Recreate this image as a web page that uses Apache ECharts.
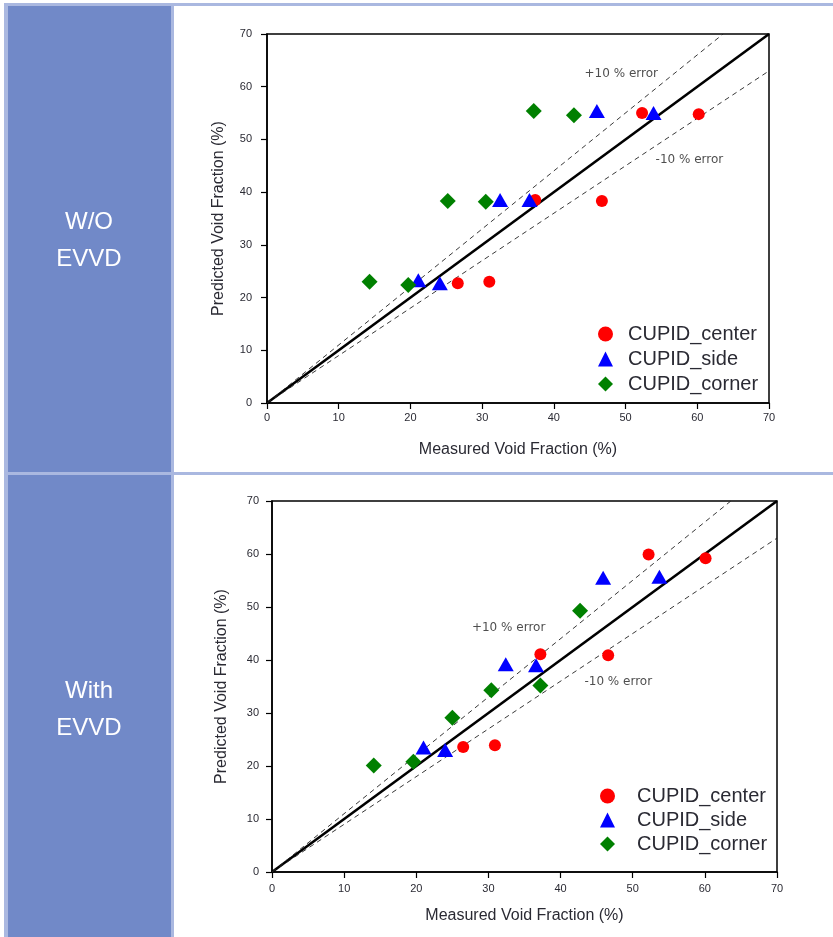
<!DOCTYPE html>
<html>
<head>
<meta charset="utf-8">
<script src="https://cdn.jsdelivr.net/npm/echarts@6/dist/echarts.min.js"></script>
<style>
html,body{margin:0;padding:0;background:#fff;}
#chart{width:833px;height:937px;}
</style>
</head>
<body>
<div id="chart"></div>
<script>
// ---------- data ----------
var rowLabels = ['W/O\nEVVD', 'With\nEVVD'];
var seriesNames = ['CUPID_center', 'CUPID_side', 'CUPID_corner'];
var axisTicks = [0, 10, 20, 30, 40, 50, 60, 70];
var xAxisTitle = 'Measured Void Fraction (%)';
var yAxisTitle = 'Predicted Void Fraction (%)';

// W/O EVVD  [measured, predicted]
var woCenter = [[26.6,22.7],[31.0,23.0],[37.4,38.5],[46.7,38.3],[52.3,55.0],[60.2,54.8]];
var woSide   = [[21.1,23.3],[24.1,22.7],[32.5,38.5],[36.6,38.5],[46.0,55.4],[53.9,55.0]];
var woCorner = [[14.3,23.0],[19.7,22.4],[25.2,38.3],[30.5,38.2],[37.2,55.4],[42.8,54.6]];

// With EVVD
var wCenter = [[26.5,23.6],[30.9,23.9],[37.2,41.1],[46.6,40.9],[52.2,59.9],[60.1,59.2]];
var wSide   = [[21.0,23.5],[24.0,23.0],[32.4,39.2],[36.6,39.0],[45.9,55.5],[53.7,55.7]];
var wCorner = [[14.1,20.1],[19.6,20.8],[25.0,29.1],[30.4,34.3],[37.2,35.2],[42.7,49.3]];

// reference lines (y = x, +10 %, -10 %)
var perfectLine = [[0,0],[70,70]];
var plusLine    = [[0,0],[63.6,70]];
var minusLine   = [[0,0],[70,63]];

// error-band labels [x, y, text]
var woNotes = [[49.4,62.4,'+10 % error'],[58.9,46.2,'-10 % error']];
var wNotes  = [[32.8,46.0,'+10 % error'],[48.0,35.8,'-10 % error']];

// ---------- styles ----------
var BLUE_CELL = '#7189C8';
var BORDER = '#AAB8E0';
var TXT = '#2a2a33';
var FONT = 'Liberation Sans, Arial, sans-serif';
var symbols = ['circle', 'triangle', 'diamond'];
var symSizes = [12, [16, 14], 16];
var colors = ['#FF0000', '#0000FF', '#008000'];

var grids = [
  {left: 267, top: 34, width: 502, height: 369},
  {left: 272, top: 501, width: 505, height: 371}
];

function makeAxis(kind, gi, cfg) {
  return {
    type: 'value', gridIndex: gi, min: 0, max: 70, interval: 10,
    name: kind === 'x' ? xAxisTitle : yAxisTitle,
    nameLocation: 'middle', nameGap: cfg.nameGap,
    nameTextStyle: {fontFamily: FONT, fontSize: 16, color: TXT},
    axisLine: {show: true, onZero: false, lineStyle: {color: '#000', width: 1.5}},
    axisTick: {show: true, inside: false, length: 6, lineStyle: {color: '#000', width: 1.2}},
    axisLabel: {fontFamily: FONT, fontSize: 11, color: TXT, margin: cfg.margin,
      formatter: function (v) { return axisTicks.indexOf(v) >= 0 ? String(v) : ''; }},
    splitLine: {show: false}
  };
}

var series = [];
function addChart(gi, center, side, corner, notes) {
  var sets = [center, side, corner];
  series.push({type: 'line', xAxisIndex: gi, yAxisIndex: gi, data: perfectLine, symbol: 'none',
    lineStyle: {color: '#000', width: 2.6}, silent: true, z: 3});
  series.push({type: 'line', xAxisIndex: gi, yAxisIndex: gi, data: plusLine, symbol: 'none',
    lineStyle: {color: '#222', width: 0.9, type: [5, 4]}, silent: true, z: 3});
  series.push({type: 'line', xAxisIndex: gi, yAxisIndex: gi, data: minusLine, symbol: 'none',
    lineStyle: {color: '#222', width: 0.9, type: [5, 4]}, silent: true, z: 3});
  for (var i = 0; i < 3; i++) {
    series.push({type: 'scatter', name: seriesNames[i], xAxisIndex: gi, yAxisIndex: gi,
      data: sets[i], symbol: symbols[i], symbolSize: symSizes[i],
      itemStyle: {color: colors[i], opacity: 1}, z: 5});
  }
  series.push({type: 'scatter', xAxisIndex: gi, yAxisIndex: gi, symbolSize: 0, silent: true,
    data: notes.map(function (n) { return {value: [n[0], n[1]], name: n[2]}; }),
    label: {show: true, position: 'inside', formatter: '{b}', fontFamily: 'DejaVu Sans, sans-serif',
      fontSize: 12, color: '#222'}, z: 6});
}
addChart(0, woCenter, woSide, woCorner, woNotes);
addChart(1, wCenter, wSide, wCorner, wNotes);

function makeLegend(left, top, pad, gap) {
  return {
    orient: 'vertical', left: left, top: top, itemWidth: 15, itemHeight: 15, itemGap: gap,
    selectedMode: false,
    data: seriesNames.map(function (n, i) { return {name: n, icon: symbols[i]}; }),
    textStyle: {fontFamily: FONT, fontSize: 20, color: TXT, padding: [0, 0, 0, pad]}
  };
}

var graphics = [
  {type: 'rect', shape: {x: 4, y: 3, width: 829, height: 934}, style: {fill: BORDER}, z: -10},
  {type: 'rect', shape: {x: 8, y: 6, width: 163, height: 466}, style: {fill: BLUE_CELL}, z: -9},
  {type: 'rect', shape: {x: 8, y: 475, width: 163, height: 462}, style: {fill: BLUE_CELL}, z: -9},
  {type: 'rect', shape: {x: 174, y: 6, width: 659, height: 466}, style: {fill: '#fff'}, z: -9},
  {type: 'rect', shape: {x: 174, y: 475, width: 659, height: 462}, style: {fill: '#fff'}, z: -9},
  {type: 'text', x: 89, y: 241, style: {text: rowLabels[0], fill: '#fff', font: '24px ' + FONT,
    align: 'center', verticalAlign: 'middle', lineHeight: 37}, z: -8},
  {type: 'text', x: 89, y: 710, style: {text: rowLabels[1], fill: '#fff', font: '24px ' + FONT,
    align: 'center', verticalAlign: 'middle', lineHeight: 37}, z: -8}
];

var option = {
  animation: false,
  backgroundColor: '#fff',
  grid: grids.map(function (g) {
    return {left: g.left, top: g.top, width: g.width, height: g.height, show: true,
      borderColor: '#000', borderWidth: 1.5, backgroundColor: 'transparent', containLabel: false};
  }),
  xAxis: [makeAxis('x', 0, {nameGap: 39, margin: 9}), makeAxis('x', 1, {nameGap: 36, margin: 11})],
  yAxis: [makeAxis('y', 0, {nameGap: 40, margin: 15}), makeAxis('y', 1, {nameGap: 42, margin: 13})],
  legend: [makeLegend(593, 319, 10, 5), makeLegend(595, 781, 17, 4)],
  graphic: graphics,
  series: series
};

var chart = echarts.init(document.getElementById('chart'), null, {renderer: 'canvas'});
chart.setOption(option);
</script>
</body>
</html>
